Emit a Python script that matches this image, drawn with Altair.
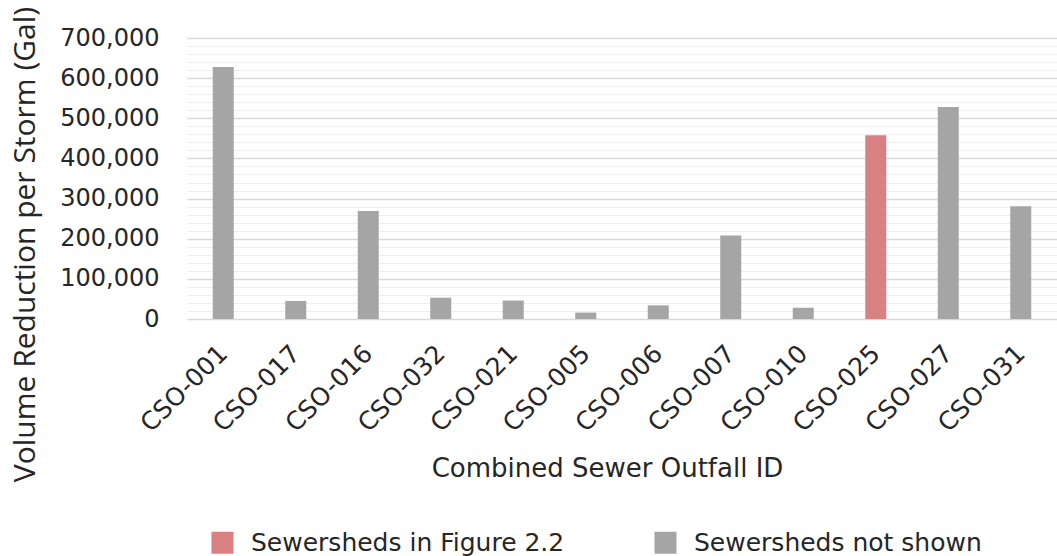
import altair as alt
import pandas as pd

categories = ["CSO-001", "CSO-017", "CSO-016", "CSO-032", "CSO-021", "CSO-005",
              "CSO-006", "CSO-007", "CSO-010", "CSO-025", "CSO-027", "CSO-031"]
values = [628000, 45000, 269000, 53000, 46000, 16000, 34000, 208000, 28000, 458000, 528000, 281000]
groups = ["Sewersheds not shown"] * 9 + ["Sewersheds in Figure 2.2"] + ["Sewersheds not shown"] * 2

group_domain = ["Sewersheds in Figure 2.2", "Sewersheds not shown"]
group_colors = ["#D98082", "#A5A5A5"]

df = pd.DataFrame({"cso": categories, "vol": values, "grp": groups})

FONT = "DejaVu Sans"
TFONT = "Open Sans"
TXT = "#262626"

x_enc = alt.X("cso:N", sort=categories,
              scale=alt.Scale(paddingInner=0.71, paddingOuter=0.355),
              axis=alt.Axis(title="Combined Sewer Outfall ID", labelAngle=-45,
                            labelAlign="right", labelBaseline="middle",
                            labelPadding=30, ticks=False, domain=False,
                            labelFontSize=25, labelColor=TXT, labelFont=FONT,
                            titleFontSize=26, titleFont=FONT, titleFontWeight="normal",
                            titleColor=TXT, titleX=420, titleY=149,
                            titleBaseline="middle"))

yscale = alt.Scale(domain=[0, 700000], nice=False)

minor = alt.Chart(df).mark_bar(opacity=0).encode(
    x=x_enc,
    y=alt.Y("vol:Q", scale=yscale,
            axis=alt.Axis(orient="right", values=list(range(0, 700001, 20000)),
                          labels=False, ticks=False, domain=False, title=None,
                          grid=True, gridColor="#eeeeee", gridWidth=1.2)),
)

bars = alt.Chart(df).mark_bar(size=21).encode(
    x=x_enc,
    y=alt.Y("vol:Q", scale=yscale,
            axis=alt.Axis(values=list(range(0, 700001, 100000)), format=",.0f",
                          title="Volume Reduction per Storm (Gal)",
                          ticks=False, domain=False, grid=True,
                          gridColor="#d9d9d9", gridWidth=1.5,
                          labelFontSize=24, labelFont=FONT, labelColor=TXT,
                          labelPadding=28,
                          titleFontSize=30, titleFont=TFONT, titleFontWeight="normal",
                          titleColor=TXT, titleAngle=270, titleX=-162, titleY=206,
                          titleBaseline="middle")),
    color=alt.Color("grp:N", scale=alt.Scale(domain=group_domain, range=group_colors),
                    legend=alt.Legend(title=None, orient="none", direction="horizontal",
                                      legendX=23, legendY=492, symbolType="square",
                                      symbolSize=484, symbolStrokeWidth=0,
                                      labelFontSize=25, labelFont=FONT, labelLimit=0,
                                      labelColor=TXT, columnPadding=88,
                                      labelOffset=16, symbolOpacity=1)),
)

chart = alt.layer(minor, bars).resolve_axis(y="independent").properties(
    width=870, height=281,
    autosize=alt.AutoSizeParams(type="none"),
    padding={"left": 187, "top": 38, "right": 0, "bottom": 237},
).configure_view(stroke=None)

chart.save("out.html", embed_options={"renderer": "svg", "actions": False})
